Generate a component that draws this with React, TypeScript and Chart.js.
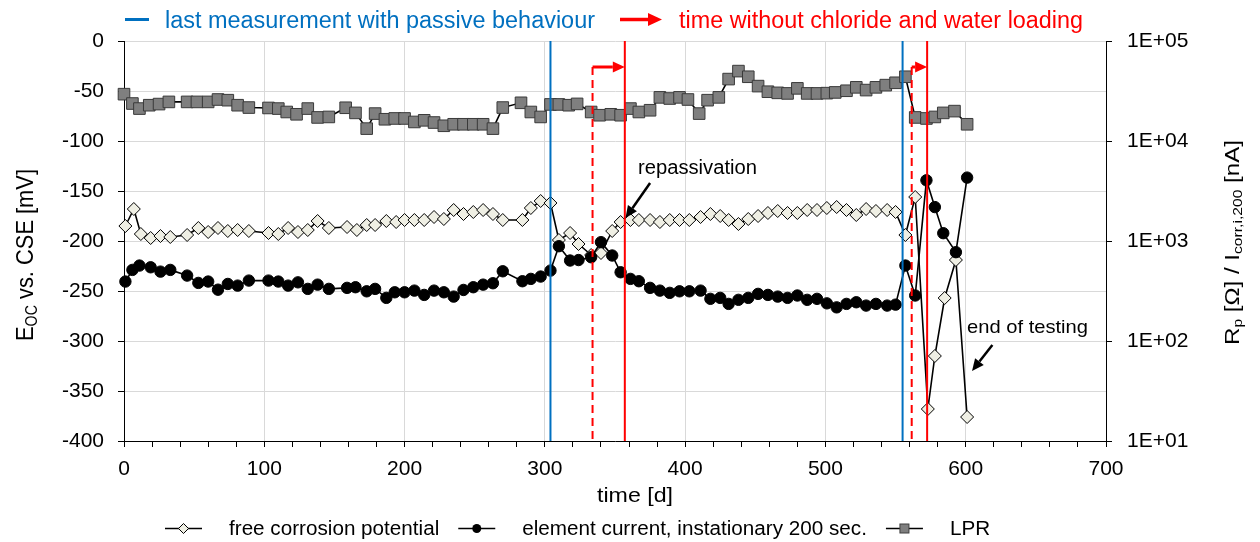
import React, { useEffect, useRef } from "react";
import { Chart, registerables } from "chart.js";
Chart.register(...registerables);

const FONT = '"Liberation Sans", Arial, sans-serif';

// ---- data: free corrosion potential [mV] ----
const fcpDays = [1, 7, 12, 19, 26, 33, 45, 53, 60, 67, 74, 81, 89, 103, 110, 117, 124, 131, 138, 146, 159, 166, 173, 179, 187, 194, 200, 207, 214, 221, 228, 235, 242, 249, 256, 263, 270, 284, 290, 297, 304, 310, 318, 324, 333, 340, 348, 354, 361, 367, 375, 382, 389, 396, 403, 411, 418, 425, 431, 438, 445, 452, 459, 466, 473, 480, 487, 494, 501, 508, 515, 522, 529, 536, 544, 550, 557, 564, 573, 578, 585, 593, 601];
const fcpValues = [-185, -168, -193, -197, -195, -196, -194, -187, -191, -187, -190, -189, -190, -192, -193, -187, -191, -189, -180, -187, -186, -189, -184, -184, -180, -181, -179, -179, -179, -176, -178, -169, -173, -171, -169, -173, -179, -179, -167, -160, -162, -199, -192, -203, -214, -212, -190, -181, -179, -179, -179, -181, -179, -179, -179, -176, -173, -175, -179, -183, -178, -175, -172, -170, -172, -172, -169, -169, -167, -166, -169, -174, -168, -170, -169, -171, -194, -156, -368, -315, -257, -219, -376];

// ---- data: element current, instationary 200 s [nA] ----
const ecDays = [1, 6, 11, 19, 26, 33, 45, 53, 60, 67, 74, 81, 89, 103, 110, 117, 124, 131, 138, 146, 159, 165, 173, 179, 187, 193, 200, 207, 214, 221, 228, 235, 242, 249, 256, 263, 270, 284, 290, 297, 304, 310, 318, 324, 333, 340, 348, 354, 361, 367, 375, 382, 389, 396, 403, 411, 418, 425, 431, 438, 445, 452, 459, 466, 473, 480, 487, 494, 501, 508, 515, 522, 529, 536, 544, 550, 557, 564, 572, 578, 584, 593, 601];
const ecValues = [393, 514, 568, 546, 494, 514, 451, 381, 393, 326, 372, 358, 402, 402, 393, 358, 386, 332, 366, 332, 340, 345, 314, 332, 270, 307, 307, 319, 289, 319, 307, 278, 324, 345, 366, 378, 498, 396, 418, 441, 506, 887, 638, 645, 688, 973, 716, 487, 418, 396, 340, 319, 303, 314, 314, 319, 264, 270, 235, 258, 270, 296, 289, 278, 270, 285, 258, 264, 238, 217, 235, 244, 226, 235, 226, 231, 568, 285, 4045, 2183, 1197, 773, 4305];

// ---- data: LPR [Ohm] ----
const lprDays = [0, 6, 11, 18, 25, 32, 45, 52, 60, 67, 74, 81, 89, 103, 110, 116, 123, 131, 138, 146, 158, 165, 173, 179, 186, 193, 200, 207, 214, 221, 228, 235, 242, 249, 256, 263, 270, 283, 290, 297, 304, 310, 317, 323, 333, 339, 347, 354, 361, 367, 375, 382, 389, 396, 402, 410, 416, 424, 431, 438, 445, 452, 459, 466, 473, 480, 487, 494, 501, 507, 515, 522, 529, 536, 543, 550, 557, 564, 572, 578, 584, 592, 601];
const lprValues = [29400, 23700, 21100, 22800, 23400, 24600, 24600, 24600, 24600, 26000, 25600, 22800, 21600, 21400, 21100, 19500, 18500, 21100, 17200, 17400, 21500, 19100, 13300, 18800, 16500, 16800, 16800, 15500, 16100, 15300, 14200, 14700, 14700, 14700, 14700, 13300, 21600, 24100, 19500, 17400, 23200, 23200, 22800, 23500, 19500, 18100, 18500, 18100, 21100, 19500, 20300, 27300, 26600, 27300, 26000, 18800, 25600, 27300, 41600, 50000, 43900, 35400, 31100, 30300, 29900, 33600, 29900, 29900, 30100, 30600, 31800, 34400, 32300, 34400, 36200, 38200, 43900, 17200, 16800, 17400, 19100, 19900, 14700];

// ---- axes ----
const X_MIN = 0, X_MAX = 700, X_MINOR_STEP = 20, X_LABEL_STEP = 100;
const Y_MIN = -400, Y_MAX = 0, Y_STEP = 50;
const Y2_MIN = 10, Y2_MAX = 100000;
const y2TickValues = [10, 100, 1000, 10000, 100000];

// ---- event markers (days) ----
const passiveDays = [304, 555];
const stopDays = [334, 561.5];
const restartDays = [357, 572.5];
const arrowLevel = -26; // mV

// ---- legend labels ----
const legendLabels = ["free corrosion potential", "element current, instationary 200 sec.", "LPR"];

const BLUE = "#0070C0";
const RED = "#FF0000";

function pts(xs: number[], ys: number[]) {
  return xs.map((x, i) => ({ x, y: ys[i] }));
}

function drawArrow(ctx: CanvasRenderingContext2D, x1: number, y1: number, x2: number, y2: number, color: string, width: number, headLen: number, headW: number) {
  const ang = Math.atan2(y2 - y1, x2 - x1);
  const bx = x2 - headLen * Math.cos(ang);
  const by = y2 - headLen * Math.sin(ang);
  ctx.save();
  ctx.strokeStyle = color;
  ctx.lineWidth = width;
  ctx.setLineDash([]);
  ctx.beginPath();
  ctx.moveTo(x1, y1);
  ctx.lineTo(bx, by);
  ctx.stroke();
  ctx.fillStyle = color;
  ctx.beginPath();
  ctx.moveTo(x2, y2);
  ctx.lineTo(bx + headW * Math.sin(ang), by - headW * Math.cos(ang));
  ctx.lineTo(bx - headW * Math.sin(ang), by + headW * Math.cos(ang));
  ctx.closePath();
  ctx.fill();
  ctx.restore();
}

function fitText(ctx: CanvasRenderingContext2D, text: string, x: number, baseline: number, width: number, size: number, color: string) {
  ctx.save();
  ctx.font = `${size}px ${FONT}`;
  const w = ctx.measureText(text).width;
  ctx.translate(x, baseline);
  ctx.scale(width / w, 1);
  ctx.fillStyle = color;
  ctx.textAlign = "left";
  ctx.textBaseline = "alphabetic";
  ctx.fillText(text, 0, 0);
  ctx.restore();
}

function stretchText(ctx: CanvasRenderingContext2D, text: string, x: number, baseline: number, size: number, stretch: number, color: string) {
  ctx.save();
  ctx.font = `${size}px ${FONT}`;
  const w = ctx.measureText(text).width * stretch;
  ctx.translate(x, baseline);
  ctx.scale(stretch, 1);
  ctx.fillStyle = color;
  ctx.textAlign = "left";
  ctx.textBaseline = "alphabetic";
  ctx.fillText(text, 0, 0);
  ctx.restore();
  return w;
}

type Part = { t: string; sub?: boolean };
function richVertical(ctx: CanvasRenderingContext2D, parts: Part[], baselineX: number, centerY: number, size: number, length: number | null, cross: number) {
  const sub = size * 0.65;
  ctx.save();
  const widths = parts.map((p) => {
    ctx.font = `${p.sub ? sub : size}px ${FONT}`;
    return ctx.measureText(p.t).width;
  });
  const total = widths.reduce((a, b) => a + b, 0);
  ctx.translate(baselineX, centerY);
  ctx.rotate(-Math.PI / 2);
  ctx.scale(length ? length / total : 1, cross);
  let x = -total / 2;
  ctx.fillStyle = "#000";
  ctx.textAlign = "left";
  ctx.textBaseline = "alphabetic";
  parts.forEach((p, i) => {
    ctx.font = `${p.sub ? sub : size}px ${FONT}`;
    ctx.fillText(p.t, x, p.sub ? size * 0.15 : 0);
    x += widths[i];
  });
  ctx.restore();
}

const overlay = {
  id: "overlay",
  afterDraw(chart: any) {
    const ctx: CanvasRenderingContext2D = chart.ctx;
    const xs = chart.scales.x;
    const ys = chart.scales.y;

    // red arrows: time without chloride and water loading
    stopDays.forEach((d, i) => {
      const x1 = xs.getPixelForValue(d);
      const x2 = xs.getPixelForValue(restartDays[i]);
      const y = ys.getPixelForValue(arrowLevel);
      drawArrow(ctx, x1, y, x2, y, RED, 3, 12, 5.5);
    });

    // top legend
    ctx.save();
    ctx.strokeStyle = BLUE;
    ctx.lineWidth = 3;
    ctx.beginPath();
    ctx.moveTo(125, 19.5);
    ctx.lineTo(149, 19.5);
    ctx.stroke();
    ctx.restore();
    fitText(ctx, "last measurement with passive behaviour", 165, 28, 430, 23, BLUE);
    drawArrow(ctx, 620, 19.5, 662, 19.5, RED, 3.5, 14, 6.5);
    fitText(ctx, "time without chloride and water loading", 679, 28, 404, 23, RED);

    // axis titles
    richVertical(ctx, [{ t: "E" }, { t: "OC", sub: true }, { t: " vs. CSE [mV]" }], 33, 255, 21, 172, 1.15);
    richVertical(ctx, [{ t: "R" }, { t: "p", sub: true }, { t: " [Ω] / I" }, { t: "corr,i,200", sub: true }, { t: " [nA]" }], 1238.5, 242.5, 21, 205, 1.0);
    fitText(ctx, "time [d]", 597, 502, 76, 21, "#000");

    // annotations
    fitText(ctx, "repassivation", 638, 173.5, 119, 19.5, "#000");
    drawArrow(ctx, xs.getPixelForValue(375), ys.getPixelForValue(-142), xs.getPixelForValue(357.5), ys.getPixelForValue(-177), "#000", 2.5, 12, 5.5);
    fitText(ctx, "end of testing", 967, 333, 121, 18.5, "#000");
    drawArrow(ctx, xs.getPixelForValue(619), ys.getPixelForValue(-304), xs.getPixelForValue(604.5), ys.getPixelForValue(-330), "#000", 2.5, 12, 5.5);

    // bottom legend
    const ly = 528.5;
    const base = 535;
    const lsize = 19.5;
    const lstretch = 1.06;
    const lineLen = 37;
    const gapMarkerText = 27;
    const gapItems = 19;
    let x = 165;
    legendLabels.forEach((label, i) => {
      const a = x;
      const b = x + lineLen;
      const cx = (a + b) / 2;
      ctx.save();
      ctx.strokeStyle = "#000";
      ctx.lineWidth = 1.5;
      ctx.beginPath();
      ctx.moveTo(a, ly);
      ctx.lineTo(b, ly);
      ctx.stroke();
      ctx.lineWidth = 1;
      if (i === 0) {
        ctx.fillStyle = "#EFEFE4";
        ctx.beginPath();
        ctx.moveTo(cx - 5, ly);
        ctx.lineTo(cx, ly - 5);
        ctx.lineTo(cx + 5, ly);
        ctx.lineTo(cx, ly + 5);
        ctx.closePath();
        ctx.fill();
        ctx.stroke();
      } else if (i === 1) {
        ctx.fillStyle = "#000";
        ctx.beginPath();
        ctx.arc(cx, ly, 4.5, 0, Math.PI * 2);
        ctx.fill();
      } else {
        ctx.fillStyle = "#7F7F7F";
        ctx.strokeStyle = "#3F3F3F";
        ctx.fillRect(cx - 4.5, ly - 4.5, 9, 9);
        ctx.strokeRect(cx - 4.5, ly - 4.5, 9, 9);
      }
      ctx.restore();
      const w = stretchText(ctx, label, b + gapMarkerText, base, lsize, lstretch, "#000");
      x = b + gapMarkerText + w + gapItems;
    });
  },
};

function vLine(day: number, top: number, color: string, dash: number[]) {
  return {
    type: "line" as const,
    data: [{ x: day, y: top }, { x: day, y: Y_MIN }],
    yAxisID: "y",
    borderColor: color,
    borderWidth: 2,
    borderDash: dash,
    pointRadius: 0,
    fill: false,
    order: 0,
    clip: false as const,
  };
}

export default function App() {
  const ref = useRef<HTMLCanvasElement>(null);
  useEffect(() => {
    const tickFont = { family: FONT, size: 21 };
    const chart = new Chart(ref.current as HTMLCanvasElement, {
      type: "line",
      data: {
        datasets: [
          {
            label: legendLabels[0],
            data: pts(fcpDays, fcpValues),
            yAxisID: "y",
            borderColor: "#000",
            borderWidth: 1.6,
            pointStyle: "rectRot",
            pointRadius: 6.5,
            pointBackgroundColor: "#EFEFE4",
            pointBorderColor: "#000",
            pointBorderWidth: 1,
            fill: false,
            tension: 0,
            order: 3,
            clip: false,
          },
          {
            label: legendLabels[1],
            data: pts(ecDays, ecValues),
            yAxisID: "y2",
            borderColor: "#000",
            borderWidth: 1.6,
            pointStyle: "circle",
            pointRadius: 5.7,
            pointBackgroundColor: "#000",
            pointBorderColor: "#000",
            pointBorderWidth: 1,
            fill: false,
            tension: 0,
            order: 2,
            clip: false,
          },
          {
            label: legendLabels[2],
            data: pts(lprDays, lprValues),
            yAxisID: "y2",
            borderColor: "#000",
            borderWidth: 1.6,
            pointStyle: "rect",
            pointRadius: 8.2,
            pointBackgroundColor: "#7F7F7F",
            pointBorderColor: "#3A3A3A",
            pointBorderWidth: 1,
            fill: false,
            tension: 0,
            order: 1,
            clip: false,
          },
          ...passiveDays.map((d) => vLine(d, Y_MAX, BLUE, [])),
          ...restartDays.map((d) => vLine(d, Y_MAX, RED, [])),
          ...stopDays.map((d) => vLine(d, arrowLevel, RED, [8, 5])),
        ] as any,
      },
      options: {
        responsive: false,
        devicePixelRatio: 1,
        animation: false,
        layout: { padding: { top: 41, left: 0, right: 0, bottom: 0 } },
        plugins: { legend: { display: false }, tooltip: { enabled: false } },
        scales: {
          x: {
            type: "linear",
            position: "bottom",
            min: X_MIN,
            max: X_MAX,
            afterFit: (s: any) => {
              s.height = 101;
            },
            ticks: {
              stepSize: X_MINOR_STEP,
              autoSkip: false,
              maxRotation: 0,
              minRotation: 0,
              padding: 10,
              color: "#000",
              font: tickFont,
              callback: (v: any) => (Number(v) % X_LABEL_STEP === 0 ? String(v) : ""),
            },
            grid: {
              color: (c: any) => (c.tick && c.tick.value % X_LABEL_STEP === 0 ? "#D9D9D9" : "rgba(0,0,0,0)"),
              tickColor: "#000",
              tickLength: 6,
              lineWidth: 1,
            },
            border: { color: "#000", width: 1 },
          },
          y: {
            type: "linear",
            position: "left",
            min: Y_MIN,
            max: Y_MAX,
            afterFit: (s: any) => {
              s.width = 124;
            },
            ticks: { stepSize: Y_STEP, padding: 14, color: "#000", font: tickFont },
            grid: { color: "#D9D9D9", tickColor: "#000", tickLength: 6, lineWidth: 1 },
            border: { color: "#000", width: 1 },
          },
          y2: {
            type: "logarithmic",
            position: "right",
            min: Y2_MIN,
            max: Y2_MAX,
            afterFit: (s: any) => {
              s.width = 154;
            },
            afterBuildTicks: (s: any) => {
              s.ticks = y2TickValues.map((v) => ({ value: v }));
            },
            ticks: {
              padding: 15,
              color: "#000",
              font: tickFont,
              autoSkip: false,
              callback: (v: any) => "1E+" + String(Math.round(Math.log10(Number(v)))).padStart(2, "0"),
            },
            grid: { drawOnChartArea: false, tickColor: "#000", tickLength: 6 },
            border: { color: "#000", width: 1 },
          },
        },
      } as any,
      plugins: [overlay],
    });
    return () => chart.destroy();
  }, []);
  return (
    <div style={{ position: "fixed", left: 0, top: 0, width: 1260, height: 542, background: "#fff" }}>
      <canvas ref={ref} width={1260} height={542} style={{ display: "block", width: 1260, height: 542 }} />
    </div>
  );
}
